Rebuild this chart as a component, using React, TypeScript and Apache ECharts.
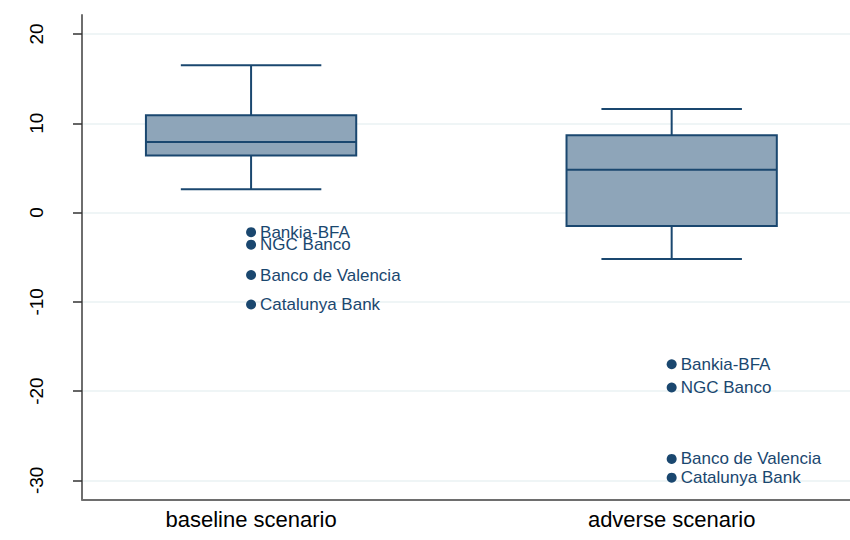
import React, { useEffect, useRef } from "react";
import * as echarts from "echarts";

// ---- data ----
const categories = ["baseline scenario", "adverse scenario"];
// [lower whisker, q1, median, q3, upper whisker]
const baselineBox = [2.6, 6.4, 7.9, 10.9, 16.5];
const adverseBox = [-5.2, -1.5, 4.8, 8.65, 11.6];
const outlierNames = ["Bankia-BFA", "NGC Banco", "Banco de Valencia", "Catalunya Bank"];
const baselineOutliers = [-2.2, -3.6, -7.0, -10.3];
const adverseOutliers = [-17.0, -19.6, -27.6, -29.7];
const yTicks = [-30, -20, -10, 0, 10, 20];

const NAVY = "#1a476f";
const BOX_FILL = "#8ea5b9";
const GRID = "#eaf2f3";
const FONT = "'Liberation Sans', Arial, Helvetica, sans-serif";
const BOX_WIDTH = 0.5;
const CAP_WIDTH = 0.334;

export default function App() {
  const ref = useRef<HTMLDivElement>(null);

  useEffect(() => {
    if (!ref.current) return;
    const chart = echarts.init(ref.current, undefined, { renderer: "svg" });

    const boxData = [
      [1, ...baselineBox],
      [2, ...adverseBox],
    ];
    const outlierData: any[] = [];
    baselineOutliers.forEach((v, i) => outlierData.push({ value: [1, v], name: outlierNames[i] }));
    adverseOutliers.forEach((v, i) => outlierData.push({ value: [2, v], name: outlierNames[i] }));

    const option: any = {
      animation: false,
      backgroundColor: "#ffffff",
      textStyle: { fontFamily: FONT },
      grid: { left: 82, right: 0, top: 15, bottom: 40.5, containLabel: false },
      xAxis: {
        type: "value",
        min: 0.598,
        max: 2.424,
        splitLine: { show: false },
        axisLine: { show: true, onZero: false, lineStyle: { color: "#6e6e6e", width: 2 } },
        axisTick: { show: false },
        axisLabel: {
          customValues: [1, 2],
          formatter: (v: number) => categories[Math.round(v) - 1] ?? "",
          color: "#000",
          fontSize: 22,
          fontFamily: FONT,
          margin: 9,
        },
      },
      yAxis: {
        type: "value",
        min: -32.15,
        max: 22.13,
        splitLine: { show: false },
        axisLine: { show: true, onZero: false, lineStyle: { color: "#6e6e6e", width: 2 } },
        axisTick: {
          show: true,
          customValues: yTicks,
          length: 9,
          lineStyle: { color: "#333", width: 1.5 },
        },
        axisLabel: {
          customValues: yTicks,
          rotate: 90,
          color: "#000",
          fontSize: 19,
          fontFamily: FONT,
          margin: 36,
        },
      },
      series: [
        {
          type: "line",
          data: [],
          z: 0,
          silent: true,
          markLine: {
            z: 0,
            silent: true,
            symbol: "none",
            label: { show: false },
            lineStyle: { color: GRID, width: 1.5, type: "solid", opacity: 1 },
            emphasis: { disabled: true },
            data: yTicks.map((v) => ({ yAxis: v })),
          },
        },
        {
          type: "custom",
          z: 2,
          data: boxData,
          encode: { x: 0, y: [1, 2, 3, 4, 5] },
          renderItem: (params: any, api: any) => {
            const x = api.value(0);
            const low = api.coord([x, api.value(1)]);
            const q1 = api.coord([x, api.value(2)]);
            const med = api.coord([x, api.value(3)]);
            const q3 = api.coord([x, api.value(4)]);
            const high = api.coord([x, api.value(5)]);
            const boxW = api.size([BOX_WIDTH, 0])[0];
            const capW = api.size([CAP_WIDTH, 0])[0];
            const cx = low[0];
            const style = { stroke: NAVY, lineWidth: 2, fill: "none" };
            return {
              type: "group",
              children: [
                { type: "line", shape: { x1: cx, y1: high[1], x2: cx, y2: q3[1] }, style },
                { type: "line", shape: { x1: cx, y1: q1[1], x2: cx, y2: low[1] }, style },
                { type: "line", shape: { x1: cx - capW / 2, y1: high[1], x2: cx + capW / 2, y2: high[1] }, style },
                { type: "line", shape: { x1: cx - capW / 2, y1: low[1], x2: cx + capW / 2, y2: low[1] }, style },
                {
                  type: "rect",
                  shape: { x: cx - boxW / 2, y: q3[1], width: boxW, height: q1[1] - q3[1] },
                  style: { fill: BOX_FILL, stroke: NAVY, lineWidth: 2 },
                },
                { type: "line", shape: { x1: cx - boxW / 2, y1: med[1], x2: cx + boxW / 2, y2: med[1] }, style },
              ],
            };
          },
        },
        {
          type: "scatter",
          z: 3,
          data: outlierData,
          symbol: "circle",
          symbolSize: 10,
          itemStyle: { color: NAVY, opacity: 1 },
          label: {
            show: true,
            position: "right",
            distance: 4,
            formatter: (p: any) => p.name,
            color: NAVY,
            fontSize: 17,
            lineHeight: 12,
            fontFamily: FONT,
          },
        },
      ],
    };

    chart.setOption(option);
    return () => chart.dispose();
  }, []);

  return (
    <div
      ref={ref}
      style={{ position: "fixed", left: 0, top: 0, width: 850, height: 540, background: "#fff" }}
    />
  );
}
